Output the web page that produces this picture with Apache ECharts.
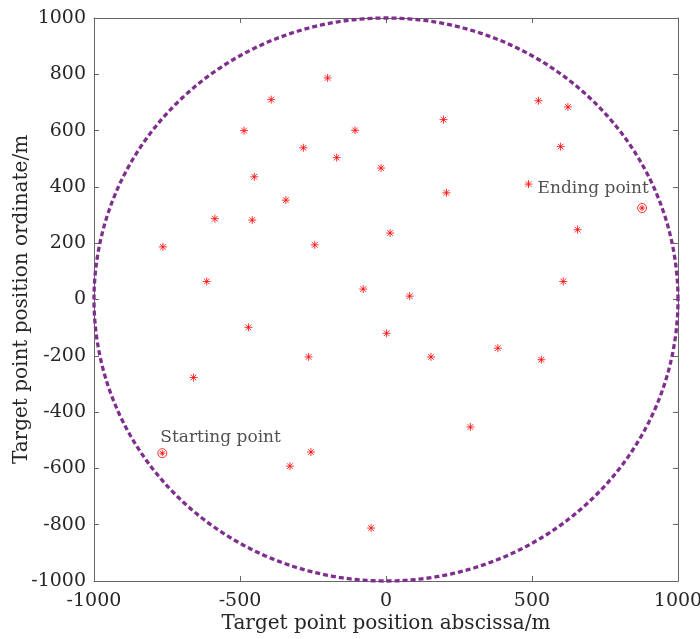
<!DOCTYPE html>
<html><head><meta charset="utf-8">
<script src="https://cdn.jsdelivr.net/npm/echarts@6/dist/echarts.min.js"></script>
<style>html,body{margin:0;padding:0;background:#fff}#c{width:700px;height:639px}</style>
</head><body><div id="c"></div>
<script>
const targetX = [-200,-393,522,623,197,-486,-106,598,-283,-169,-17,-451,488,207,-343,-586,-458,656,14,-244,-764,-614,607,-78,81,-471,2,-265,154,383,532,-659,289,-257,-329,-51];
const targetY = [787,710,706,684,639,600,601,543,539,504,467,436,410,379,353,287,282,248,236,194,187,64,64,37,12,-99,-120,-204,-204,-173,-214,-277,-453,-542,-592,-812];
const startPoint = [-766,-546];
const endPoint = [877,325];
const startLabel = 'Starting point';
const endLabel = 'Ending point';
const circleCenter = [0,0];
const circleRadius = 1000;
const xTicks = [-1000,-500,0,500,1000];
const yTicks = [-1000,-800,-600,-400,-200,0,200,400,600,800,1000];
const xTitle = 'Target point position abscissa/m';
const yTitle = 'Target point position ordinate/m';

const FONT = 'DejaVu Serif';
const FS = 19;
const ast = 'path://M0,-10L0,10M-10,0L10,0M-7.07,-7.07L7.07,7.07M-7.07,7.07L7.07,-7.07';
const red = '#ff0000';
const axisCol = '#666666';
const txt = '#262626';

const chart = echarts.init(document.getElementById('c'), null, {renderer:'canvas'});
const axisCommon = {
  min:-1000, max:1000,
  axisLine:{show:true, onZero:false, lineStyle:{color:axisCol, width:1}},
  axisTick:{show:true, inside:true, length:5, lineStyle:{color:axisCol}},
  splitLine:{show:false},
};
chart.setOption({
  animation:false,
  backgroundColor:'#fff',
  grid:{left:94, right:22, top:18, bottom:58, containLabel:false, outerBoundsMode:'none'},
  xAxis:[
    Object.assign({type:'value', position:'bottom', interval:500,
      axisLabel:{color:txt, fontFamily:FONT, fontSize:FS, margin:11, formatter:v=>xTicks.includes(v)?String(v):''},
      name:xTitle, nameLocation:'middle', nameGap:33, nameMoveOverlap:false,
      nameTextStyle:{color:txt, fontFamily:FONT, fontSize:20}}, axisCommon),
    Object.assign({type:'value', position:'top', interval:500, axisLabel:{show:false}}, axisCommon)
  ],
  yAxis:[
    Object.assign({type:'value', position:'left', interval:200,
      axisLabel:{color:txt, fontFamily:FONT, fontSize:FS, margin:8, formatter:v=>yTicks.includes(v)?String(v):''},
      name:yTitle, nameLocation:'middle', nameGap:62, nameMoveOverlap:false,
      nameTextStyle:{color:txt, fontFamily:FONT, fontSize:20}}, axisCommon),
    Object.assign({type:'value', position:'right', interval:200, axisLabel:{show:false}}, axisCommon)
  ],
  series:[
    {
      type:'custom', coordinateSystem:'cartesian2d', silent:true, z:1,
      data:[[circleCenter[0], circleCenter[1], circleRadius]],
      renderItem:function(params, api){
        const cx = api.value(0), cy = api.value(1), r = api.value(2);
        const pts = [];
        for(let i=0;i<=720;i++){
          const a = i/720*2*Math.PI;
          pts.push(api.coord([cx + r*Math.cos(a), cy + r*Math.sin(a)]));
        }
        return {type:'polyline', shape:{points:pts},
          style:{stroke:'#7E2F8E', lineWidth:3.3, fill:null, lineDash:[5,3]}};
      }
    },
    {
      type:'scatter', z:3, symbol:ast, symbolSize:8,
      data:targetX.map((x,i)=>[x,targetY[i]]),
      itemStyle:{color:'rgba(0,0,0,0)', borderColor:red, borderWidth:1},
    },
    {
      type:'scatter', z:3, symbol:'circle', symbolSize:9,
      data:[
        {value:startPoint, label:{show:true, formatter:startLabel, position:[3,-11], align:'left', verticalAlign:'middle'}},
        {value:endPoint, label:{show:true, formatter:endLabel, position:[-99.5,-14], align:'left', verticalAlign:'middle'}}
      ],
      itemStyle:{color:'rgba(0,0,0,0)', borderColor:red, borderWidth:1},
      label:{color:txt, fontFamily:FONT, fontSize:17}
    },
    {
      type:'scatter', z:4, symbol:ast, symbolSize:6,
      data:[startPoint, endPoint],
      itemStyle:{color:'rgba(0,0,0,0)', borderColor:red, borderWidth:1},
    }
  ]
});
</script></body></html>
